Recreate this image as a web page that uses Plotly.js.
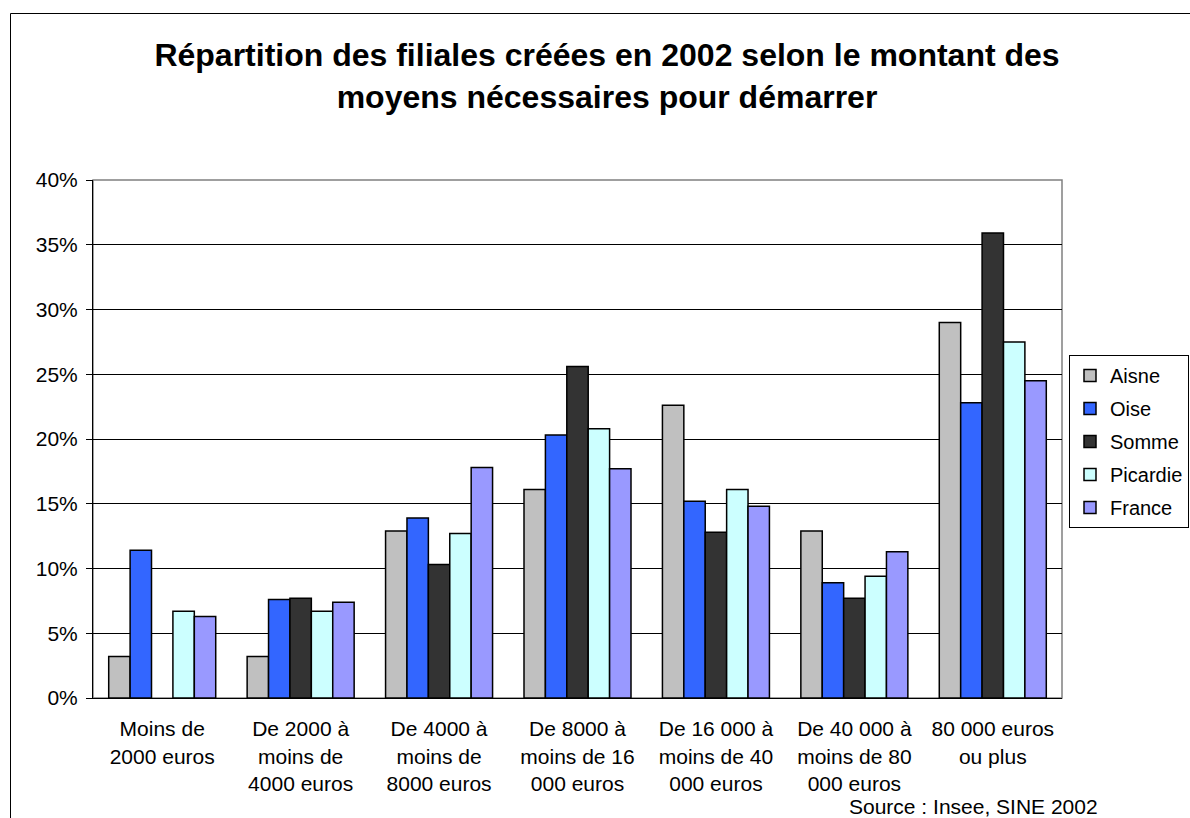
<!DOCTYPE html>
<html>
<head>
<meta charset="utf-8">
<script src="https://cdn.plot.ly/plotly-3.0.1.min.js"></script>
<style>html,body{margin:0;padding:0;background:#fff;}#chart{width:1190px;height:818px;}</style>
</head>
<body>
<div id="chart"></div>
<script>
const categories = [
  "Moins de<br>2000 euros",
  "De 2000 à<br>moins de<br>4000 euros",
  "De 4000 à<br>moins de<br>8000 euros",
  "De 8000 à<br>moins de 16<br>000 euros",
  "De 16 000 à<br>moins de 40<br>000 euros",
  "De 40 000 à<br>moins de 80<br>000 euros",
  "80 000 euros<br>ou plus"
];
const aisne    = [3.2, 3.2, 12.9, 16.1, 22.6, 12.9, 29.0];
const oise     = [11.4, 7.6, 13.9, 20.3, 15.2, 8.9, 22.8];
const somme    = [null, 7.7, 10.3, 25.6, 12.8, 7.7, 35.9];
const picardie = [6.7, 6.7, 12.7, 20.8, 16.1, 9.4, 27.5];
const france   = [6.3, 7.4, 17.8, 17.7, 14.8, 11.3, 24.5];

const seriesNames = ["Aisne", "Oise", "Somme", "Picardie", "France"];
const seriesData = [aisne, oise, somme, picardie, france];
const seriesColors = ["#C0C0C0", "#3366FF", "#333333", "#CCFFFF", "#9999FF"];

const FONT = "Liberation Sans, Arial, sans-serif";

const traces = seriesNames.map((name, i) => ({
  type: "bar",
  name: name,
  legendgroup: name,
  x: categories,
  y: seriesData[i],
  marker: { color: seriesColors[i], line: { color: "#000000", width: 1.5 } },
  hoverinfo: "x+y+name"
}));

// plot area in pixels
const W = 1190, H = 818;
const L = 93, R = 1062, T = 180, B = 698;
const px = x => (x - L) / (R - L);
const py = y => (B - y) / (B - T);

const layout = {
  width: W, height: H,
  margin: { l: L, r: W - R, t: T, b: H - B, pad: 0, autoexpand: false },
  paper_bgcolor: "#ffffff",
  plot_bgcolor: "#ffffff",
  font: { family: FONT, size: 21, color: "#000000" },
  title: {
    text: "<b>Répartition des filiales créées en 2002 selon le montant des<br>moyens nécessaires pour démarrer</b>",
    font: { family: FONT, size: 32, color: "#000000" },
    x: 607 / W, xanchor: "center",
    y: 1 - 66 / H, yanchor: "top", yref: "container"
  },
  barmode: "group",
  bargap: 0.227,
  bargroupgap: 0,
  xaxis: {
    type: "category",
    showgrid: false,
    showline: true, linecolor: "#000000", linewidth: 1,
    ticks: "",
    ticklabelstandoff: 12,
    tickfont: { family: FONT, size: 21, color: "#000000" },
    fixedrange: true
  },
  yaxis: {
    range: [0, 40],
    dtick: 5,
    ticksuffix: "%",
    showgrid: true, gridcolor: "#000000", gridwidth: 1,
    showline: true, linecolor: "#000000", linewidth: 1,
    ticks: "outside", ticklen: 6, tickcolor: "#000000", tickwidth: 1,
    ticklabelstandoff: 4,
    tickfont: { family: FONT, size: 21, color: "#000000" },
    zeroline: false,
    fixedrange: true
  },
  legend: {
    x: px(1189), xanchor: "right",
    y: py(355), yanchor: "top",
    bordercolor: "#000000", borderwidth: 1,
    bgcolor: "#ffffff",
    font: { family: FONT, size: 20, color: "#000000" },
    traceorder: "grouped",
    tracegroupgap: 4,
    itemwidth: 30
  },
  shapes: [
    { type: "rect", xref: "paper", yref: "paper", x0: 0, x1: 1, y0: 0, y1: 1,
      line: { color: "#808080", width: 1.5 }, layer: "below" },
    { type: "path", xref: "paper", yref: "paper",
      path: `M ${px(10.5)} ${py(830)} L ${px(10.5)} ${py(13.5)} L ${px(1200)} ${py(13.5)}`,
      line: { color: "#000000", width: 1 } }
  ],
  annotations: [
    { text: "Source : Insee, SINE 2002", xref: "paper", yref: "paper",
      x: px(1100), xanchor: "right", y: py(806), yanchor: "middle",
      showarrow: false, font: { family: FONT, size: 21, color: "#000000" } }
  ]
};

Plotly.newPlot("chart", traces, layout, { displayModeBar: false, staticPlot: true });
</script>
</body>
</html>
